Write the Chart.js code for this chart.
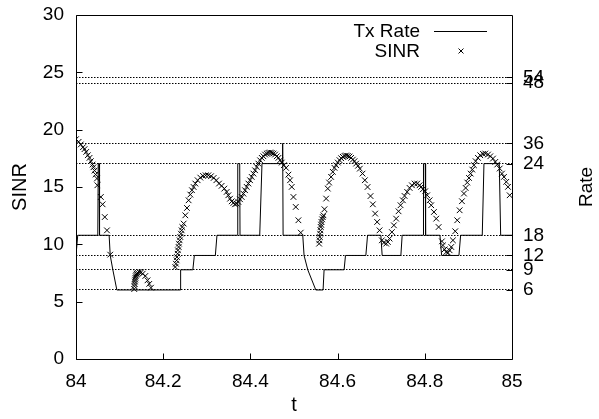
<!DOCTYPE html>
<html>
<head>
<meta charset="utf-8">
<script src="https://cdn.jsdelivr.net/npm/chart.js@4.4.0/dist/chart.umd.min.js"></script>
<style>
html, body { margin: 0; padding: 0; background: #fff; }
</style>
</head>
<body>
<canvas id="myChart" width="599" height="419"></canvas>
<script>
// rate thresholds (Mbps) and the SINR level each one sits at
var rateLabels = [6, 9, 12, 18, 24, 36, 48, 54];
var rateSinr = [6.02, 7.78, 9.03, 10.79, 17.04, 18.80, 24.05, 24.56];

// Tx Rate step line
var txT = [84.000, 84.004, 84.050, 84.051, 84.053, 84.054, 84.076, 84.0785, 84.0845, 84.0937,
  84.2393, 84.2400, 84.2680, 84.2714, 84.3196, 84.3233, 84.3705, 84.3710, 84.3755, 84.3762,
  84.4214, 84.4266, 84.4735, 84.4740, 84.4750, 84.5201, 84.5231, 84.5316, 84.5500,
  84.5667, 84.5690, 84.6149, 84.6181, 84.6648, 84.6687, 84.6992, 84.7022, 84.7451, 84.7481,
  84.7963, 84.7970, 84.8010, 84.8018, 84.8347, 84.8386, 84.8783, 84.8822, 84.9318, 84.9357,
  84.9708, 84.9740, 85.000];
var txRate = [12, 18, 18, 24, 24, 18, 18, 12, 9, 6,
  6, 9, 9, 12, 12, 18, 18, 24, 24, 18,
  18, 24, 24, 36, 18, 18, 12, 9, 6,
  6, 9, 9, 12, 12, 18, 18, 12, 12, 18,
  18, 24, 24, 18, 18, 12, 12, 18, 18, 24,
  24, 18, 18];

// SINR samples
var sinrT = [84.000, 84.006, 84.011, 84.016, 84.0195, 84.0234, 84.0271, 84.031, 84.034, 84.038,
  84.040, 84.0425, 84.045, 84.048, 84.049, 84.057, 84.061, 84.066, 84.071, 84.0785,
  84.1336, 84.1340, 84.1345, 84.1350, 84.1356, 84.1362, 84.1370, 84.1380, 84.1392, 84.1410,
  84.1450, 84.1490, 84.1530, 84.1590, 84.1640, 84.1680, 84.1720,
  84.2277, 84.2292, 84.2308, 84.2315, 84.2331, 84.2338, 84.2354, 84.2361, 84.2377, 84.2392,
  84.2407, 84.2423, 84.2438, 84.2469, 84.2507, 84.2545, 84.2583, 84.2622, 84.266, 84.2698,
  84.2737, 84.279, 84.2851, 84.2913, 84.2974, 84.3035, 84.3096, 84.3157, 84.3219, 84.328,
  84.334, 84.3402, 84.3456, 84.3494, 84.3533, 84.3571, 84.3609, 84.3647, 84.3686, 84.3724,
  84.3762, 84.3801, 84.3839, 84.3877, 84.3915, 84.3954, 84.3992, 84.403, 84.4069, 84.4107,
  84.4145, 84.4183, 84.4222, 84.426, 84.4298, 84.4337, 84.4375, 84.4413, 84.4451, 84.449,
  84.4528, 84.4566, 84.4605, 84.4643, 84.4681, 84.4719, 84.4768, 84.4818, 84.4872, 84.491,
  84.4948, 84.4987, 84.504, 84.5101, 84.5155,
  84.5576, 84.5584, 84.5591, 84.5599, 84.5607, 84.5614, 84.5622, 84.563, 84.5645, 84.566,
  84.5676, 84.5699, 84.5737, 84.5775, 84.5805, 84.5851, 84.589, 84.5929, 84.5966, 84.6005,
  84.6044, 84.6081, 84.612, 84.6159, 84.6195, 84.6234, 84.6273, 84.631, 84.6349, 84.6388,
  84.6425, 84.6468, 84.651, 84.6572, 84.6625, 84.6687, 84.6755, 84.6808, 84.6861, 84.6907,
  84.6962, 84.7015, 84.7061, 84.7114, 84.7153, 84.7192, 84.7245, 84.7291, 84.7343, 84.7398,
  84.7444, 84.7497, 84.7536, 84.7596, 84.7651, 84.7704, 84.7766, 84.7826, 84.788, 84.7917,
  84.7956, 84.8009, 84.8055, 84.811, 84.8147, 84.8209, 84.8262, 84.8317, 84.8393, 84.8416,
  84.8455, 84.8492, 84.8531, 84.8569, 84.8607, 84.8645, 84.8698, 84.8744, 84.8799, 84.8852,
  84.8898, 84.8937, 84.8974, 84.9013, 84.9052, 84.9089, 84.9127, 84.9166, 84.9219, 84.9272,
  84.9334, 84.9387, 84.9449, 84.9502, 84.9564, 84.9617, 84.9662, 84.9718, 84.977, 84.9816,
  84.9869, 84.9908, 84.9947];
var sinrV = [19.17, 18.94, 18.71, 18.47, 18.30, 18.06, 17.77, 17.54, 17.25, 16.96,
  16.72, 16.43, 16.09, 15.74, 15.15, 14.13, 13.49, 12.38, 11.22, 9.10,
  6.10, 6.35, 6.55, 6.75, 6.92, 7.08, 7.22, 7.35, 7.45, 7.53,
  7.58, 7.55, 7.44, 7.24, 6.86, 6.55, 6.22,
  8.02, 8.31, 8.60, 8.89, 9.18, 9.48, 9.77, 10.06, 10.35, 10.64,
  10.93, 11.22, 11.51, 11.81, 12.53, 13.17, 13.84, 14.34, 14.72, 15.00,
  15.30, 15.59, 15.82, 15.97, 16.02, 16.02, 15.94, 15.79, 15.59, 15.30,
  15.10, 14.86, 14.57, 14.28, 13.98, 13.75, 13.61, 13.49, 13.55, 13.70,
  13.93, 14.13, 14.42, 14.72, 15.01, 15.30, 15.59, 15.88, 16.17, 16.46,
  16.75, 17.04, 17.33, 17.54, 17.68, 17.83, 17.92, 17.98, 18.01, 17.98,
  17.92, 17.83, 17.68, 17.54, 17.33, 17.13, 16.90, 16.67, 16.08, 15.59,
  15.01, 14.13, 13.26, 12.10, 11.02,
  10.06, 10.35, 10.64, 10.93, 11.22, 11.51, 11.72, 11.95, 12.18, 12.38,
  12.53, 13.06, 13.99, 14.86, 15.39, 15.88, 16.32, 16.67, 16.90, 17.13,
  17.34, 17.51, 17.63, 17.71, 17.75, 17.71, 17.66, 17.54, 17.39, 17.25,
  17.04, 16.85, 16.60, 16.17, 15.59, 15.00, 14.21, 13.49, 12.68, 11.95,
  11.22, 10.35, 10.15, 10.06, 10.20, 10.50, 11.07, 11.66, 12.24, 12.88,
  13.41, 13.84, 14.22, 14.57, 14.92, 15.15, 15.30, 15.30, 15.15, 15.01,
  14.80, 14.63, 14.28, 13.84, 13.41, 12.82, 12.24, 11.51, 10.26, 9.91,
  9.56, 9.33, 9.27, 9.48, 9.77, 10.35, 11.14, 12.10, 12.97, 13.76,
  14.43, 14.92, 15.39, 15.79, 16.17, 16.52, 16.90, 17.25, 17.54, 17.77,
  17.89, 17.92, 17.83, 17.68, 17.48, 17.19, 16.96, 16.61, 16.17, 15.88,
  15.45, 15.01, 14.28];

var FONT = "'Liberation Sans', Arial, Helvetica, sans-serif";
Chart.defaults.font.family = FONT;
Chart.defaults.font.size = 19;
Chart.defaults.color = '#000';

function rateToSinr(r) {
  return rateSinr[rateLabels.indexOf(r)];
}

// box, inward ticks, key and the right-hand title
var framePlugin = {
  id: 'frame',
  afterDraw: function(chart) {
    var ctx = chart.ctx, a = chart.chartArea;
    var sx = chart.scales.x, sy = chart.scales.y, sy2 = chart.scales.y2;
    var L = Math.round(a.left) + 0.5, R = Math.round(a.right) + 0.5;
    var T = Math.round(a.top) + 0.5, B = Math.round(a.bottom) + 0.5;
    ctx.save();
    ctx.strokeStyle = '#000';
    ctx.lineWidth = 1;
    ctx.setLineDash([]);
    ctx.beginPath();
    ctx.rect(L, T, R - L, B - T);
    sx.ticks.forEach(function(t) {
      var p = Math.round(sx.getPixelForValue(t.value)) + 0.5;
      ctx.moveTo(p, B); ctx.lineTo(p, B - 6);
    });
    sy.ticks.forEach(function(t) {
      var p = Math.round(sy.getPixelForValue(t.value)) + 0.5;
      ctx.moveTo(L, p); ctx.lineTo(L + 6, p);
    });
    sy2.ticks.forEach(function(t) {
      var p = Math.round(sy2.getPixelForValue(t.value)) + 0.5;
      ctx.moveTo(R, p); ctx.lineTo(R - 6, p);
    });
    ctx.stroke();

    // key
    var ds = chart.data.datasets;
    ctx.font = '19px ' + FONT;
    ctx.fillStyle = '#000';
    ctx.textAlign = 'right';
    ctx.textBaseline = 'middle';
    ctx.fillText(ds[0].label, 420, 32);
    ctx.fillText(ds[1].label, 420, 52);
    ctx.beginPath();
    ctx.moveTo(434, 31.5); ctx.lineTo(487, 31.5);
    ctx.stroke();
    if (Chart.helpers && Chart.helpers.drawPoint) {
      Chart.helpers.drawPoint(ctx, {pointStyle: 'crossRot', radius: 3.5, borderWidth: 1, rotation: 0}, 461, 51);
    }

    // right title
    ctx.translate(587, (a.top + a.bottom) / 2);
    ctx.rotate(-Math.PI / 2);
    ctx.textAlign = 'center';
    ctx.fillText('Rate', 0, 0);
    ctx.restore();
  }
};

var ctx = document.getElementById('myChart');
var grafica = new Chart(ctx, {
  type: 'scatter',
  data: {
    datasets: [{
      label: 'Tx Rate',
      data: txT.map(function(t, i) { return {x: t, y: rateToSinr(txRate[i])}; }),
      showLine: true,
      borderColor: '#000',
      borderWidth: 1,
      pointRadius: 0,
      tension: 0,
      fill: false
    }, {
      label: 'SINR',
      data: sinrT.map(function(t, i) { return {x: t, y: sinrV[i]}; }),
      showLine: false,
      pointStyle: 'crossRot',
      pointRadius: 4,
      borderColor: '#000',
      borderWidth: 1,
      backgroundColor: 'rgba(0,0,0,0)'
    }]
  },
  options: {
    responsive: false,
    animation: false,
    layout: { padding: { top: 15, left: 0, right: 0, bottom: 0 } },
    plugins: { legend: { display: false }, tooltip: { enabled: false } },
    scales: {
      x: {
        type: 'linear', position: 'bottom', min: 84, max: 85,
        ticks: {
          stepSize: 0.2, padding: 0, maxRotation: 0,
          callback: function(v) { return String(Math.round(v * 10) / 10); }
        },
        grid: { display: true, drawOnChartArea: false, drawTicks: true, tickLength: 11, tickColor: 'rgba(0,0,0,0)' },
        border: { display: false },
        title: { display: true, text: 't', font: { size: 20 }, padding: { top: 0, bottom: 2 } },
        afterFit: function(s) { s.height = 60; }
      },
      y: {
        position: 'left', min: 0, max: 30,
        ticks: { stepSize: 5, padding: 0 },
        grid: { display: true, drawOnChartArea: false, drawTicks: true, tickLength: 12, tickColor: 'rgba(0,0,0,0)' },
        border: { display: false },
        title: { display: true, text: 'SINR', font: { size: 20 }, padding: { top: 8, bottom: 0 } },
        afterFit: function(s) { s.width = 76; }
      },
      y2: {
        position: 'right', min: 0, max: 30,
        afterBuildTicks: function(s) {
          s.ticks = rateSinr.map(function(v) { return {value: v}; });
        },
        ticks: {
          autoSkip: false, padding: 0,
          callback: function(v, i) { return String(rateLabels[i]); }
        },
        grid: { display: true, drawOnChartArea: true, drawTicks: true, tickLength: 11, tickColor: 'rgba(0,0,0,0)', color: '#000', lineWidth: 1 },
        border: { display: false, dash: [1.5, 1.5] },
        afterFit: function(s) { s.width = 87; }
      }
    }
  },
  plugins: [framePlugin]
});
</script>
</body>
</html>
